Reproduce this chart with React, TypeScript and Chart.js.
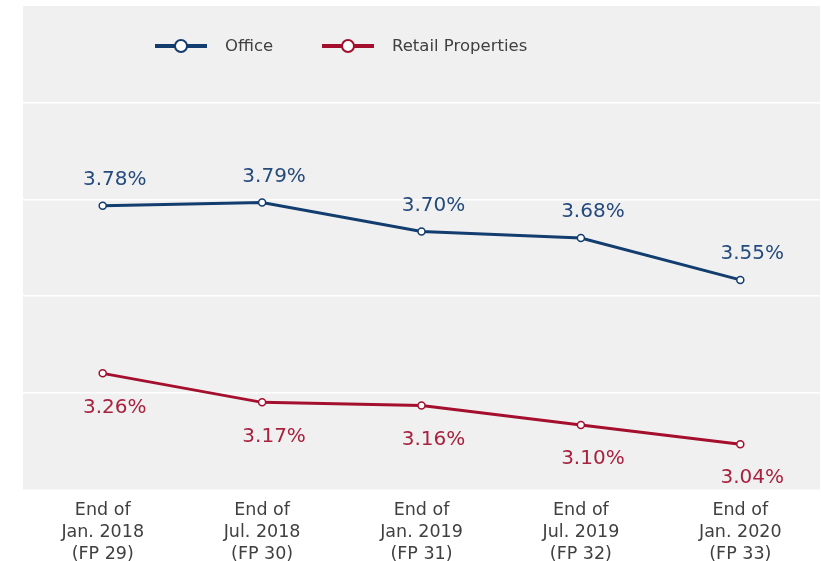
import React, { useEffect, useRef } from "react";
import { Chart, registerables } from "chart.js";

Chart.register(...registerables);

const categories: string[][] = [
  ["End of", "Jan. 2018", "(FP 29)"],
  ["End of", "Jul. 2018", "(FP 30)"],
  ["End of", "Jan. 2019", "(FP 31)"],
  ["End of", "Jul. 2019", "(FP 32)"],
  ["End of", "Jan. 2020", "(FP 33)"],
];
const seriesNames = ["Office", "Retail Properties"];
const officeValues = [3.78, 3.79, 3.7, 3.68, 3.55];
const retailValues = [3.26, 3.17, 3.16, 3.1, 3.04];
const yMin = 2.9;
const yMax = 4.4;
const yStep = 0.3;

const OFFICE_LINE = "#123d6e";
const OFFICE_TEXT = "#254a7c";
const RETAIL_LINE = "#a50f2e";
const RETAIL_TEXT = "#a8223f";
const BG = "#f0f0f0";
const FONT = "'DejaVu Sans', Verdana, sans-serif";

const bgPlugin = {
  id: "bgPlugin",
  beforeDraw(chart: any) {
    const { ctx, chartArea } = chart;
    ctx.save();
    ctx.fillStyle = BG;
    ctx.fillRect(chartArea.left, chartArea.top, chartArea.right - chartArea.left, chartArea.bottom - chartArea.top);
    ctx.restore();
  },
};

const labelPlugin = {
  id: "labelPlugin",
  afterDatasetsDraw(chart: any) {
    const { ctx } = chart;
    ctx.save();
    ctx.font = `20px ${FONT}`;
    ctx.textAlign = "center";
    ctx.textBaseline = "middle";
    chart.data.datasets.forEach((ds: any, di: number) => {
      const meta = chart.getDatasetMeta(di);
      ctx.fillStyle = di === 0 ? OFFICE_TEXT : RETAIL_TEXT;
      meta.data.forEach((pt: any, i: number) => {
        const v = ds.data[i] as number;
        const dy = di === 0 ? -26 : 34;
        ctx.fillText(v.toFixed(2) + "%", pt.x + 12, pt.y + dy);
      });
    });
    ctx.restore();
  },
};

const legendPlugin = {
  id: "customLegend",
  afterDraw(chart: any) {
    const { ctx, chartArea } = chart;
    ctx.save();
    const y = chartArea.top + 40;
    chart.data.datasets.forEach((ds: any, i: number) => {
      const x0 = chartArea.left + 132 + i * 167;
      ctx.strokeStyle = ds.borderColor;
      ctx.lineWidth = 4;
      ctx.beginPath();
      ctx.moveTo(x0, y);
      ctx.lineTo(x0 + 52, y);
      ctx.stroke();
      ctx.beginPath();
      ctx.arc(x0 + 26, y, 6, 0, Math.PI * 2);
      ctx.fillStyle = "#ffffff";
      ctx.fill();
      ctx.lineWidth = 2;
      ctx.stroke();
      ctx.fillStyle = "#404040";
      ctx.font = `16.5px ${FONT}`;
      ctx.textAlign = "left";
      ctx.textBaseline = "middle";
      ctx.fillText(ds.label, x0 + 70, y + 1);
    });
    ctx.restore();
  },
};

export default function App() {
  const ref = useRef<HTMLCanvasElement | null>(null);
  useEffect(() => {
    document.body.style.margin = "0";
    if (!ref.current) return;
    const chart = new Chart(ref.current, {
      type: "line",
      data: {
        labels: categories,
        datasets: [
          {
            label: seriesNames[0],
            data: officeValues,
            borderColor: OFFICE_LINE,
            backgroundColor: "#ffffff",
            borderWidth: 3,
            pointRadius: 3.5,
            pointBorderWidth: 1.5,
            pointBackgroundColor: "#ffffff",
            pointBorderColor: OFFICE_LINE,
            tension: 0,
          },
          {
            label: seriesNames[1],
            data: retailValues,
            borderColor: RETAIL_LINE,
            backgroundColor: "#ffffff",
            borderWidth: 3,
            pointRadius: 3.5,
            pointBorderWidth: 1.5,
            pointBackgroundColor: "#ffffff",
            pointBorderColor: RETAIL_LINE,
            tension: 0,
          },
        ],
      },
      options: {
        animation: false,
        responsive: false,
        maintainAspectRatio: false,
        layout: { autoPadding: false, padding: { left: 23, right: 1, top: 6, bottom: -14 } },
        plugins: {
          legend: { display: false },
          tooltip: { enabled: false },
        },
        scales: {
          x: {
            offset: true,
            grid: { display: false, drawTicks: false },
            border: { display: false },
            afterFit: (scale: any) => {
              scale.paddingRight = 0;
              scale.paddingLeft = 0;
            },
            ticks: {
              color: "#404040",
              font: { family: FONT, size: 17.5, lineHeight: 1.25 },
              padding: 10,
              maxRotation: 0,
              autoSkip: false,
            },
          },
          y: {
            min: yMin,
            max: yMax,
            grid: {
              color: (c: any) =>
                c.index === 0 || c.tick?.value >= yMax - 1e-9 ? "rgba(0,0,0,0)" : "#ffffff",
              lineWidth: 1.5,
              drawTicks: false,
            },
            border: { display: false },
            ticks: { display: false, stepSize: yStep },
          },
        },
      },
      plugins: [bgPlugin, labelPlugin, legendPlugin],
    });
    return () => chart.destroy();
  }, []);
  return (
    <div style={{ width: 821, height: 561 }}>
      <canvas ref={ref} width={821} height={561} style={{ width: 821, height: 561, display: "block" }} />
    </div>
  );
}
